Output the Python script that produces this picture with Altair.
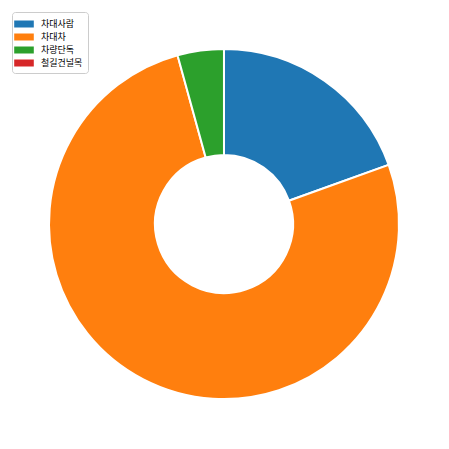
import altair as alt
import pandas as pd

categories = ["차대사람", "차대차", "차량단독", "철길건널목"]
values = [42000, 164000, 9200, 5]
colors = ["#1f77b4", "#ff7f0e", "#2ca02c", "#d62728"]

df = pd.DataFrame({"category": categories, "value": values, "order": list(range(len(categories)))})

chart = alt.Chart(df).mark_arc(
    outerRadius=175, innerRadius=69, stroke="white", strokeWidth=2
).encode(
    theta=alt.Theta("value:Q", stack=True),
    order=alt.Order("order:Q"),
    color=alt.Color(
        "category:N",
        sort=categories,
        scale=alt.Scale(domain=categories, range=colors),
        legend=alt.Legend(
            title=None,
            orient="none",
            legendX=4,
            legendY=4,
            symbolType="M-1.4,-0.5 h2.8 v1 h-2.8 z",
            symbolSize=196,
            symbolStrokeWidth=0,
            labelFont="Noto Sans CJK KR",
            labelFontSize=9,
            labelOffset=10,
            labelColor="black",
            strokeColor="#cccccc",
            fillColor="white",
            cornerRadius=3,
            padding=5,
            rowPadding=1,
        ),
    ),
).properties(width=432, height=432, padding=0).configure_view(stroke=None)

chart.save("out.html", embed_options={"renderer": "svg", "actions": False})
